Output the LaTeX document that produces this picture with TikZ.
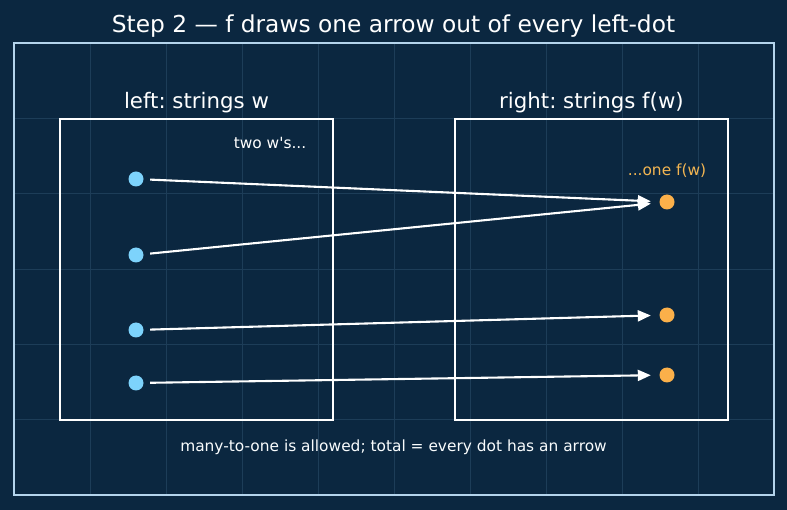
\documentclass[tikz,border=0pt]{standalone}
\usepackage{fontspec}
\setmainfont{DejaVu Sans}[Ligatures=TeXOff]
\usetikzlibrary{arrows.meta}
\definecolor{bgnavy}{HTML}{0B2740}
\definecolor{gridblue}{HTML}{1D3D58}
\definecolor{framesky}{HTML}{B4D4EC}
\definecolor{dotblue}{HTML}{7DD3FC}
\definecolor{dotorange}{HTML}{FBB04A}
\definecolor{labelorange}{HTML}{F2B552}
\frenchspacing

\begin{document}
\begin{tikzpicture}[x=1pt, y=-1pt,
		dot/.style={circle, inner sep=0pt, minimum size=15pt},
		setbox/.style={draw=white, line width=2.4pt},
		fwarrow/.style={white, line width=2.1pt, -{Triangle[length=13pt,width=11pt]}, shorten <=6.5pt, shorten >=8.5pt}]
		\fill[bgnavy] (0,0) rectangle (787,510);
		\useasboundingbox (0,0) rectangle (787,510);
		% grid inside the frame
		\foreach \gx in {90,166,...,698}
		{\draw[gridblue, line width=0.8pt] (\gx,43) -- (\gx,495);}
		\foreach \gy in {118.3,193.7,269,344.3,419.7}
		{\draw[gridblue, line width=0.8pt] (14,\gy) -- (774,\gy);}
		\draw[framesky, line width=1.6pt] (14,43) rectangle (774,495);
		\node[anchor=base, white, font=\fontsize{23.3}{28}\selectfont] (title) at (393.5,32.5) {Step 2 — f draws one arrow out of every left-dot};
		% the two sets
		\draw[setbox] (60,119) rectangle (333,420);
		\draw[setbox] (455,119) rectangle (728,420);
		\node[anchor=base, white, font=\fontsize{21.3}{26}\selectfont] (lefthead) at (196.5,109) {left: strings w};
		\node[anchor=base, white, font=\fontsize{21.3}{26}\selectfont] (righthead) at (591.5,109) {right: strings f(w)};
		\foreach \y/\name in {
			179/l1,
			255/l2,
			330/l3,
			383/l4}{
			\node[dot, fill=dotblue] (\name) at (136,\y) {};
		}
		\foreach \y/\name in {
			202/r1,
			315/r2,
			375/r3}{
			\node[dot, fill=dotorange] (\name) at (667,\y) {};
		}
		\node[anchor=base, white, font=\fontsize{15.4}{18}\selectfont] (twow) at (270,149) {two w's...};
		\node[anchor=base, labelorange, font=\fontsize{15.4}{18}\selectfont] (onef) at (667,176) {...one f(w)};
		\foreach \a/\b in {l1/r1, l2/r1, l3/r2, l4/r3}
		{\draw[fwarrow] (\a) -- (\b);}
		\node[anchor=base, white!92!framesky, font=\fontsize{15.4}{18}\selectfont] (note) at (393.5,451) {many-to-one is allowed; total = every dot has an arrow};
	\end{tikzpicture}
\end{document}
